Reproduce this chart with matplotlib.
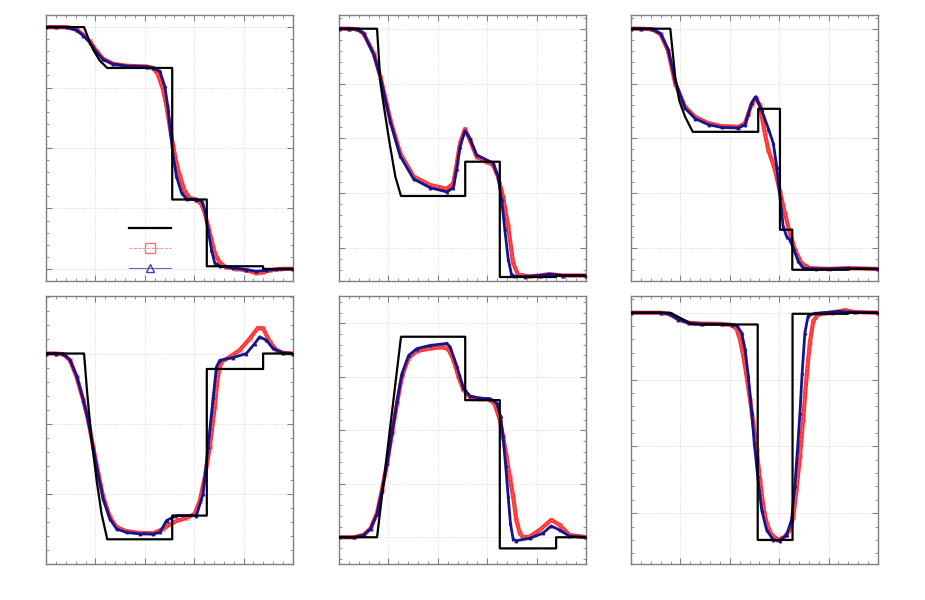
import matplotlib

matplotlib.use("Agg")
import matplotlib.pyplot as plt
from matplotlib.lines import Line2D
from matplotlib.ticker import AutoMinorLocator, MultipleLocator

# panel 1 (top left)
p1_exact_x = [0, 0.154, 0.171, 0.191, 0.218, 0.248, 0.511, 0.511, 0.651, 0.651, 0.879, 0.879, 1.0]
p1_exact_y = [1.0, 1.0, 0.955, 0.906, 0.861, 0.831, 0.831, 0.287, 0.287, 0.011, 0.011, 0.0, 0.0]
p1_red_x = [0, 0.04, 0.084, 0.124, 0.151, 0.178, 0.205, 0.232, 0.272, 0.326, 0.407, 0.434, 0.454, 0.474,
            0.488, 0.501, 0.515, 0.528, 0.542, 0.562, 0.582, 0.609, 0.63, 0.643, 0.656, 0.67, 0.683, 0.704,
            0.73, 0.771, 0.811, 0.852, 0.879, 0.906, 0.946, 1.0]
p1_red_y = [1.0, 1.0, 1.0, 0.989, 0.968, 0.941, 0.9, 0.868, 0.848, 0.84, 0.837, 0.831, 0.803, 0.741,
            0.672, 0.59, 0.507, 0.438, 0.383, 0.321, 0.293, 0.287, 0.266, 0.231, 0.176, 0.121, 0.066, 0.025,
            0.007, 0.001, -0.006, -0.017, -0.014, -0.006, 0.0, 0.0]
p1_blue_x = [0, 0.04, 0.084, 0.124, 0.151, 0.178, 0.205, 0.232, 0.272, 0.326, 0.407, 0.434, 0.461, 0.481,
             0.495, 0.504, 0.515, 0.528, 0.549, 0.569, 0.609, 0.63, 0.643, 0.656, 0.67, 0.683, 0.704, 0.757,
             0.811, 0.852, 0.892, 0.933, 1.0]
p1_blue_y = [1.0, 1.0, 0.999, 0.987, 0.965, 0.935, 0.896, 0.866, 0.847, 0.839, 0.836, 0.832, 0.817, 0.755,
             0.658, 0.562, 0.466, 0.383, 0.314, 0.289, 0.287, 0.28, 0.245, 0.163, 0.08, 0.025, 0.011, 0.004,
             -0.003, -0.01, -0.006, -0.001, 0.0]

# panel 2 (top middle)
p2_exact_x = [0, 0.154, 0.168, 0.184, 0.205, 0.228, 0.251, 0.511, 0.511, 0.651, 0.651, 0.879, 0.879, 1.0]
p2_exact_y = [1.0, 1.0, 0.8, 0.703, 0.582, 0.461, 0.39, 0.39, 0.515, 0.515, 0.0945, 0.0945, 0.1, 0.1]
p2_red_x = [0, 0.04, 0.074, 0.1, 0.141, 0.168, 0.208, 0.248, 0.302, 0.369, 0.436, 0.463, 0.477, 0.49,
            0.51, 0.53, 0.557, 0.597, 0.624, 0.644, 0.664, 0.685, 0.705, 0.725, 0.772, 0.812, 0.852, 0.906, 1.0]
p2_red_y = [1.0, 1.0, 0.998, 0.982, 0.909, 0.824, 0.667, 0.545, 0.461, 0.43, 0.416, 0.436, 0.51, 0.582,
            0.634, 0.594, 0.533, 0.515, 0.503, 0.46, 0.388, 0.279, 0.145, 0.103, 0.097, 0.1, 0.105, 0.1, 0.1]
p2_blue_x = [0, 0.04, 0.074, 0.1, 0.141, 0.168, 0.208, 0.248, 0.302, 0.369, 0.436, 0.463, 0.477, 0.49,
             0.51, 0.53, 0.557, 0.597, 0.624, 0.644, 0.658, 0.671, 0.685, 0.698, 0.712, 0.752, 0.812, 0.852,
             0.906, 1.0]
p2_blue_y = [1.0, 1.0, 0.998, 0.983, 0.905, 0.82, 0.66, 0.535, 0.452, 0.42, 0.405, 0.42, 0.49, 0.57,
             0.628, 0.6, 0.54, 0.522, 0.51, 0.46, 0.38, 0.27, 0.16, 0.105, 0.097, 0.096, 0.1, 0.105, 0.1, 0.1]

# panel 3 (top right)
p3_exact_x = [0, 0.159, 0.168, 0.179, 0.195, 0.219, 0.25, 0.515, 0.515, 0.603, 0.603, 0.653, 0.653, 0.879,
              0.879, 1.0]
p3_exact_y = [1.0, 1.0, 0.921, 0.824, 0.739, 0.679, 0.624, 0.624, 0.708, 0.708, 0.267, 0.267, 0.121, 0.121,
              0.124, 0.124]
p3_red_x = [0, 0.04, 0.085, 0.12, 0.15, 0.179, 0.219, 0.26, 0.314, 0.367, 0.435, 0.462, 0.475, 0.489,
            0.505, 0.522, 0.542, 0.556, 0.583, 0.603, 0.623, 0.643, 0.664, 0.69, 0.724, 0.8, 0.879, 1.0]
p3_red_y = [1.0, 1.0, 0.998, 0.98, 0.92, 0.8, 0.715, 0.678, 0.655, 0.645, 0.642, 0.655, 0.69, 0.727,
            0.749, 0.72, 0.618, 0.558, 0.485, 0.406, 0.327, 0.255, 0.194, 0.145, 0.127, 0.124, 0.127, 0.124]
p3_blue_x = [0, 0.04, 0.085, 0.12, 0.15, 0.179, 0.219, 0.26, 0.314, 0.367, 0.435, 0.462, 0.475, 0.489,
             0.505, 0.529, 0.556, 0.576, 0.59, 0.603, 0.616, 0.63, 0.643, 0.657, 0.677, 0.697, 0.75, 0.879, 1.0]
p3_blue_y = [1.0, 1.0, 0.999, 0.982, 0.925, 0.81, 0.71, 0.672, 0.65, 0.64, 0.638, 0.65, 0.69, 0.73,
             0.752, 0.703, 0.636, 0.582, 0.497, 0.388, 0.279, 0.242, 0.23, 0.2, 0.152, 0.127, 0.124, 0.126, 0.124]

# panel 4 (bottom left)
p4_exact_x = [0, 0.154, 0.167, 0.185, 0.205, 0.225, 0.248, 0.511, 0.511, 0.651, 0.651, 0.879, 0.879, 1.0]
p4_exact_y = [1.5, 1.5, 1.214, 0.881, 0.595, 0.357, 0.176, 0.176, 0.345, 0.345, 1.39, 1.39, 1.5, 1.5]
p4_red_x = [0, 0.04, 0.07, 0.097, 0.124, 0.151, 0.171, 0.191, 0.212, 0.232, 0.259, 0.286, 0.326, 0.38,
            0.434, 0.474, 0.515, 0.569, 0.602, 0.623, 0.643, 0.663, 0.683, 0.697, 0.71, 0.744, 0.784, 0.825,
            0.858, 0.879, 0.906, 0.933, 0.96, 1.0]
p4_red_y = [1.5, 1.5, 1.495, 1.452, 1.333, 1.167, 1.024, 0.833, 0.643, 0.476, 0.333, 0.262, 0.233, 0.221,
            0.219, 0.25, 0.298, 0.329, 0.357, 0.452, 0.619, 0.833, 1.119, 1.357, 1.44, 1.476, 1.524, 1.607,
            1.683, 1.679, 1.583, 1.524, 1.505, 1.5]
p4_blue_x = [0, 0.04, 0.07, 0.097, 0.124, 0.151, 0.171, 0.191, 0.212, 0.232, 0.259, 0.286, 0.326, 0.38,
             0.434, 0.461, 0.488, 0.528, 0.609, 0.636, 0.656, 0.677, 0.69, 0.704, 0.757, 0.811, 0.845, 0.865,
             0.892, 0.919, 0.96, 1.0]
p4_blue_y = [1.5, 1.5, 1.497, 1.455, 1.34, 1.17, 1.02, 0.83, 0.63, 0.46, 0.32, 0.25, 0.225, 0.215,
             0.214, 0.225, 0.31, 0.345, 0.345, 0.5, 0.833, 1.19, 1.405, 1.452, 1.471, 1.5, 1.571, 1.619,
             1.595, 1.536, 1.505, 1.5]

# panel 5 (bottom middle)
p5_exact_x = [0, 0.154, 0.251, 0.511, 0.511, 0.651, 0.651, 0.879, 0.879, 1.0]
p5_exact_y = [0, 0, 0.9375, 0.9375, 0.641, 0.641, -0.052, -0.052, 0, 0]
p5_red_x = [0, 0.06, 0.1, 0.128, 0.154, 0.174, 0.195, 0.215, 0.235, 0.255, 0.282, 0.315, 0.369, 0.423,
            0.443, 0.463, 0.483, 0.503, 0.53, 0.57, 0.611, 0.631, 0.651, 0.664, 0.678, 0.691, 0.705, 0.718,
            0.732, 0.745, 0.772, 0.812, 0.859, 0.893, 0.933, 1.0]
p5_red_y = [0, 0, 0.011, 0.042, 0.113, 0.222, 0.347, 0.488, 0.628, 0.753, 0.839, 0.87, 0.883, 0.889,
            0.878, 0.831, 0.753, 0.691, 0.656, 0.648, 0.644, 0.62, 0.55, 0.472, 0.378, 0.284, 0.191, 0.081,
            0.019, 0, 0.003, 0.034, 0.081, 0.058, 0.011, 0]
p5_blue_x = [0, 0.06, 0.1, 0.128, 0.154, 0.174, 0.195, 0.215, 0.235, 0.255, 0.282, 0.315, 0.369, 0.436,
             0.45, 0.477, 0.503, 0.53, 0.57, 0.611, 0.638, 0.654, 0.664, 0.675, 0.685, 0.694, 0.705, 0.718,
             0.772, 0.826, 0.859, 0.893, 0.933, 1.0]
p5_blue_y = [0, 0, 0.01, 0.04, 0.11, 0.218, 0.345, 0.49, 0.635, 0.765, 0.85, 0.882, 0.897, 0.906,
             0.89, 0.8, 0.7, 0.66, 0.65, 0.648, 0.628, 0.566, 0.472, 0.331, 0.191, 0.066, -0.009, -0.016,
             -0.005, 0.019, 0.053, 0.034, 0.005, 0]

# panel 6 (bottom right)
p6_exact_x = [0, 0.159, 0.25, 0.513, 0.513, 0.654, 0.654, 0.879, 0.879, 1.0]
p6_exact_y = [1.0, 1.0, 0.956, 0.956, 0.15, 0.15, 0.996, 0.996, 1.0, 1.0]
p6_red_x = [0, 0.12, 0.156, 0.192, 0.233, 0.287, 0.367, 0.408, 0.428, 0.441, 0.455, 0.468, 0.482, 0.495,
            0.509, 0.522, 0.536, 0.549, 0.569, 0.596, 0.623, 0.643, 0.657, 0.67, 0.684, 0.697, 0.711, 0.724,
            0.738, 0.758, 0.812, 0.865, 0.906, 1.0]
p6_red_y = [1.0, 1.0, 0.995, 0.975, 0.9625, 0.959, 0.958, 0.954, 0.9375, 0.9, 0.8375, 0.7625, 0.675, 0.5875,
            0.4875, 0.375, 0.275, 0.2125, 0.169, 0.15, 0.1625, 0.1875, 0.2375, 0.3375, 0.4625, 0.6, 0.7625,
            0.8875, 0.969, 0.994, 1.0, 1.009, 1.0025, 1.0]
p6_blue_x = [0, 0.12, 0.156, 0.192, 0.233, 0.287, 0.367, 0.408, 0.428, 0.448, 0.462, 0.475, 0.489, 0.499,
             0.513, 0.529, 0.549, 0.576, 0.603, 0.63, 0.65, 0.663, 0.674, 0.684, 0.693, 0.704, 0.717, 0.744,
             0.838, 0.906, 1.0]
p6_blue_y = [1.0, 1.0, 0.995, 0.974, 0.961, 0.958, 0.957, 0.955, 0.9525, 0.925, 0.8625, 0.7625, 0.625,
             0.5125, 0.3875, 0.2625, 0.1875, 0.15, 0.1475, 0.169, 0.225, 0.35, 0.4875, 0.625, 0.775, 0.925,
             0.9875, 0.9975, 1.005, 1.001, 1.0]

RED = "#ff1a1a"
BLUE = "#14148c"
FRAME = "#808080"

panels = [
    (p1_exact_x, p1_exact_y, p1_red_x, p1_red_y, p1_blue_x, p1_blue_y, (-0.05, 1.05), 0.25),
    (p2_exact_x, p2_exact_y, p2_red_x, p2_red_y, p2_blue_x, p2_blue_y, (0.08, 1.05), 0.2),
    (p3_exact_x, p3_exact_y, p3_red_x, p3_red_y, p3_blue_x, p3_blue_y, (0.08, 1.05), 0.2),
    (p4_exact_x, p4_exact_y, p4_red_x, p4_red_y, p4_blue_x, p4_blue_y, (0.0, 1.91), 0.5),
    (p5_exact_x, p5_exact_y, p5_red_x, p5_red_y, p5_blue_x, p5_blue_y, (-0.125, 1.128), 0.25),
    (p6_exact_x, p6_exact_y, p6_red_x, p6_red_y, p6_blue_x, p6_blue_y, (0.06, 1.0625), 0.25),
]

lefts = [46, 339, 631]
rows = [(15, 281), (296, 564)]

fig = plt.figure(figsize=(9.25, 6), dpi=100)

axes = []
for i, (ex, ey, rx, ry, bx, by, ylim, ystep) in enumerate(panels):
    top, bottom = rows[i // 3]
    left = lefts[i % 3]
    ax = fig.add_axes([left / 925, 1 - bottom / 600, 247 / 925, (bottom - top) / 600])
    ax.plot(rx, ry, color=RED, lw=3.0, alpha=0.9, zorder=2)
    ax.plot(rx, ry, ls="--", lw=0.6, color="#ff7070", marker="s", ms=3.4, mfc="none",
            mec=(1, 0.3, 0.3, 0.6), mew=0.6, zorder=3)
    ax.plot(bx, by, color=BLUE, lw=2.0, zorder=4)
    ax.plot(bx, by, ls="none", marker="^", ms=2.2, color=BLUE, mec=BLUE, mew=0.5, zorder=5)
    ax.plot(ex, ey, color="black", lw=1.6, zorder=6)

    ax.set_xlim(0, 1)
    ax.set_ylim(*ylim)
    ax.xaxis.set_major_locator(MultipleLocator(0.2))
    ax.yaxis.set_major_locator(MultipleLocator(ystep))
    ax.xaxis.set_minor_locator(AutoMinorLocator(5))
    ax.yaxis.set_minor_locator(AutoMinorLocator(5))
    ax.tick_params(which="both", direction="in", top=True, right=True, color=FRAME,
                   labelbottom=False, labelleft=False)
    ax.tick_params(which="major", length=4, width=0.8)
    ax.tick_params(which="minor", length=2, width=0.6)
    ax.grid(True, which="major", ls=":", lw=0.6, color="#cfcfcf")
    for spine in ax.spines.values():
        spine.set_color(FRAME)
        spine.set_linewidth(1.0)
    axes.append(ax)

handles = [
    Line2D([], [], color="black", lw=1.6),
    Line2D([], [], color="#ff8080", lw=0.6, ls="--", marker="s", ms=7, mfc="none", mec="#ff7070"),
    Line2D([], [], color="#6a6ac8", lw=0.8, marker="^", ms=6, mfc="none", mec="#4040b0"),
]
axes[0].legend(handles, [" ", " ", " "], loc="lower left", bbox_to_anchor=(0.292, -0.02),
               frameon=False, fontsize=9, handlelength=3.3, labelspacing=0.53)

fig.savefig("out.png", dpi=100)
